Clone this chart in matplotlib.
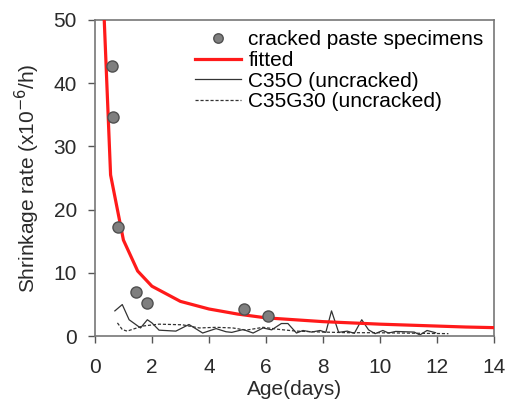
import matplotlib
matplotlib.use("Agg")
import matplotlib.pyplot as plt

plt.rcParams['font.family'] = ['Liberation Sans', 'DejaVu Sans']

# cracked paste specimens
crack_age = [0.6, 0.63, 0.82, 1.43, 1.84, 5.22, 6.08]
crack_rate = [42.7, 34.6, 17.2, 7.0, 5.2, 4.3, 3.2]

# fitted curve
fit_age = [0.3, 0.55, 1.0, 1.5, 2.0, 3.0, 4.0, 5.0, 6.0, 7.0, 8.0, 9.0, 10.0, 11.0, 12.0, 13.0, 14.0]
fit_rate = [53.0, 25.5, 15.2, 10.3, 7.9, 5.5, 4.3, 3.5, 2.9, 2.6, 2.3, 2.1, 1.9, 1.75, 1.6, 1.45, 1.35]

# C35O (uncracked)
c35o_age = [0.7, 0.96, 1.2, 1.6, 1.84, 2.0, 2.25, 2.84, 3.3, 3.78, 4.25, 4.6, 4.8, 5.2, 5.55,
            5.9, 6.2, 6.54, 6.77, 7.07, 7.3, 7.6, 7.9, 8.1, 8.3, 8.55, 8.85, 9.1, 9.36, 9.6,
            9.83, 10.1, 10.3, 10.55, 11.2, 11.4, 11.65, 11.95]
c35o_rate = [4.0, 5.0, 2.6, 1.3, 2.6, 2.1, 0.95, 0.8, 1.85, 0.5, 1.2, 0.7, 0.6, 1.05, 0.5,
             1.3, 1.0, 2.0, 2.0, 0.5, 0.9, 0.65, 0.9, 0.6, 4.0, 0.6, 0.8, 0.45, 2.6, 1.0,
             0.4, 0.9, 0.5, 0.75, 0.65, 0.2, 0.9, 0.55]

# C35G30 (uncracked)
c35g_age = [0.79, 0.96, 1.13, 1.67, 2.25, 3.07, 3.66, 4.25, 4.84, 5.3, 5.9, 6.5, 7.07, 8.0,
            8.9, 9.85, 11.5, 12.4]
c35g_rate = [2.1, 1.05, 0.8, 1.6, 1.9, 1.8, 1.3, 1.4, 1.3, 0.95, 1.4, 1.05, 0.8, 0.65,
             0.55, 0.55, 0.45, 0.4]

fig = plt.figure(figsize=(5.13, 4.07), dpi=100)
ax = fig.add_axes([0.185, 0.174, 0.778, 0.777])

ax.plot(crack_age, crack_rate, 'o', color='#7f7f7f', mec='#505050', ms=8,
        label='cracked paste specimens', zorder=4)
ax.plot(fit_age, fit_rate, color='#ff1a1a', lw=2.3, label='fitted', zorder=3)
ax.plot(c35o_age, c35o_rate, color='#333333', lw=0.9, label='C35O (uncracked)')
ax.plot(c35g_age, c35g_rate, color='#333333', lw=0.9, ls=(0, (2.5, 1.5)),
        label='C35G30 (uncracked)')

ax.set_xlim(0, 14)
ax.set_ylim(0, 50)
ax.set_xticks(range(0, 15, 2))
ax.set_yticks(range(0, 51, 10))
ax.tick_params(direction='out', length=5, width=1, colors='#555555',
               labelsize=15, labelcolor='#2a2a2a')
ax.tick_params(axis='x', pad=11)
ax.tick_params(axis='y', pad=8)
for s in ax.spines.values():
    s.set_color('#777777')
    s.set_linewidth(1.2)
ax.set_xlabel('Age(days)', fontsize=15, color='#2a2a2a', labelpad=2)
ax.set_ylabel('Shrinkage rate (x10$^{-6}$/h)', fontsize=15, color='#2a2a2a', labelpad=8)

leg = ax.legend(loc='upper right', frameon=False, fontsize=15, handlelength=2.2,
                handletextpad=0.35, labelspacing=0.08, borderaxespad=0.1,
                markerscale=0.85)

fig.savefig('out.png', dpi=100)
